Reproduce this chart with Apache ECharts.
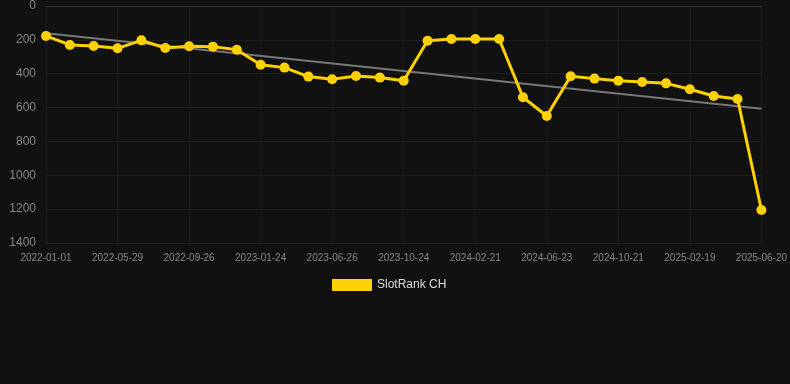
<!DOCTYPE html>
<html><head><meta charset="utf-8">
<script src="https://cdn.jsdelivr.net/npm/echarts@6/dist/echarts.min.js"></script>
<style>html,body{margin:0;padding:0;background:#111111;}#c{width:790px;height:384px;}</style>
</head><body><div id="c"></div>
<script>
const categories = ["2022-01-01","2022-02-19","2022-04-09","2022-05-29","2022-07-08","2022-08-17","2022-09-26","2022-11-05","2022-12-15","2023-01-24","2023-03-15","2023-05-05","2023-06-26","2023-08-05","2023-09-14","2023-10-24","2023-12-02","2024-01-11","2024-02-21","2024-04-01","2024-05-12","2024-06-23","2024-08-01","2024-09-10","2024-10-21","2024-11-30","2025-01-09","2025-02-19","2025-03-31","2025-05-10","2025-06-20"];
const rankValues = [177,230,236,250,203,248,238,240,258,347,364,417,433,413,423,441,205,195,195,195,539,650,415,429,441,449,457,492,532,549,1205];
const trendValues = [161,607];
const yTicks = [0,200,400,600,800,1000,1200,1400];

const trendData = categories.map(() => null);
trendData[0] = trendValues[0];
trendData[categories.length - 1] = trendValues[1];

const chart = echarts.init(document.getElementById('c'));
chart.setOption({
  backgroundColor: '#111111',
  animation: false,
  grid: {left: 46, right: 28, top: 6, bottom: 141, containLabel: false},
  legend: {
    data: ['SlotRank CH'], top: 274, left: 327,
    itemWidth: 40, itemHeight: 12, icon: 'rect',
    textStyle: {color: '#dddddd', fontSize: 12}
  },
  xAxis: {
    type: 'category', data: categories, boundaryGap: false,
    axisLine: {show: true, lineStyle: {color: '#333333'}},
    axisTick: {show: false},
    axisLabel: {interval: 2, color: '#888888', fontSize: 10, margin: 10},
    splitLine: {show: true, interval: 2, lineStyle: {color: '#1a1a1a'}}
  },
  yAxis: {
    type: 'value', inverse: true, min: yTicks[0], max: yTicks[yTicks.length-1], interval: 200,
    axisLine: {show: false}, axisTick: {show: false},
    axisLabel: {color: '#888888', fontSize: 12, margin: 10, formatter: v => String(v)},
    splitLine: {show: true, lineStyle: {color: '#1f1f1f'}}
  },
  series: [
    {
      name: 'Trend', type: 'line', data: trendData, connectNulls: true,
      symbol: 'none', lineStyle: {color: '#777777', width: 2}, z: 1, silent: true
    },
    {
      name: 'SlotRank CH', type: 'line', data: rankValues,
      symbol: 'circle', symbolSize: 10,
      itemStyle: {color: '#FFD100'},
      lineStyle: {color: '#FFD100', width: 3}, z: 2
    }
  ]
});
</script></body></html>
